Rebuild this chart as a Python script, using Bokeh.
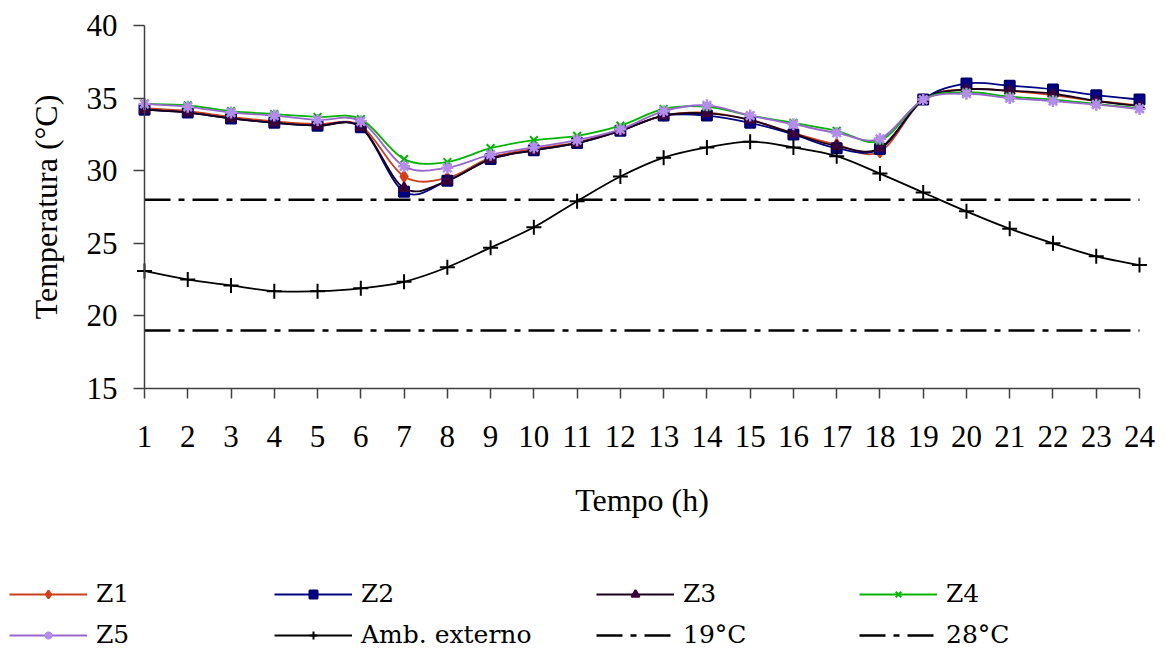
from bokeh.plotting import figure
from bokeh.models import Range1d, FixedTicker, Legend, LegendItem, ColumnDataSource
from bokeh.embed import file_html
from bokeh.resources import INLINE

hours = list(range(1, 25))
z1 = [34.3, 34.1, 33.7, 33.4, 33.2, 33.1, 29.6, 29.5, 30.9, 31.5, 31.95, 32.8,
      33.8, 34.0, 33.5, 32.6, 31.8, 31.3, 34.9, 35.6, 35.5, 35.2, 34.8, 34.5]
z2 = [34.2, 34.0, 33.6, 33.3, 33.1, 33.0, 28.55, 29.3, 30.8, 31.4, 31.9, 32.75,
      33.8, 33.8, 33.3, 32.5, 31.55, 31.5, 34.9, 36.0, 35.85, 35.6, 35.2, 34.9]
z3 = [34.2, 34.0, 33.6, 33.3, 33.1, 33.0, 28.8, 29.3, 30.8, 31.4, 31.9, 32.75,
      33.8, 33.95, 33.5, 32.55, 31.7, 31.55, 34.9, 35.6, 35.5, 35.3, 34.8, 34.45]
z4 = [34.6, 34.5, 34.1, 33.9, 33.7, 33.55, 30.8, 30.6, 31.55, 32.1, 32.4, 33.1,
      34.25, 34.4, 33.8, 33.3, 32.75, 32.05, 34.9, 35.4, 35.1, 34.9, 34.6, 34.3]
z5 = [34.6, 34.4, 34.0, 33.8, 33.5, 33.4, 30.3, 30.2, 31.1, 31.6, 32.1, 32.85,
      34.1, 34.5, 33.8, 33.2, 32.6, 32.2, 34.9, 35.3, 35.0, 34.8, 34.55, 34.25]
amb = [23.1, 22.5, 22.1, 21.7, 21.7, 21.9, 22.35, 23.35, 24.7, 26.1, 27.9, 29.6,
       30.9, 31.6, 32.0, 31.6, 31.0, 29.8, 28.5, 27.2, 26.0, 25.0, 24.1, 23.5]
lim19 = [19.0] * 24
lim28 = [28.0] * 24
y_ticks = [15, 20, 25, 30, 35, 40]
x_min, x_max = 1, 24
y_min, y_max = 15, 40

FONT = "Liberation Serif"
LEGEND_FONT = "DejaVu Serif"

# page layout (pixels): where the axes sit on the 1165 x 650 canvas
W, H = 1165, 650
AX_L, AX_R = 144, 1139     # x = 1 .. 24
AX_T, AX_B = 25, 388       # y = 40 .. 15
ppx = (AX_R - AX_L) / (x_max - x_min)
ppy = (AX_B - AX_T) / (y_max - y_min)
xr = Range1d(x_min - AX_L / ppx, x_max + (W - AX_R) / ppx)
yr = Range1d(y_min - (H - AX_B) / ppy, y_max + AX_T / ppy)


def bezier_source(xs, ys):
    n = len(xs)
    d = dict(x0=[], y0=[], x1=[], y1=[], cx0=[], cy0=[], cx1=[], cy1=[])
    for i in range(n - 1):
        xa, ya = (xs[i - 1], ys[i - 1]) if i > 0 else (xs[i], ys[i])
        xb, yb = xs[i], ys[i]
        xc, yc = xs[i + 1], ys[i + 1]
        xd, yd = (xs[i + 2], ys[i + 2]) if i + 2 < n else (xc, yc)
        d["x0"].append(xb); d["y0"].append(yb)
        d["x1"].append(xc); d["y1"].append(yc)
        d["cx0"].append(xb + (xc - xa) / 6.0); d["cy0"].append(yb + (yc - ya) / 6.0)
        d["cx1"].append(xc - (xd - xb) / 6.0); d["cy1"].append(yc - (yd - yb) / 6.0)
    return ColumnDataSource(d)


p = figure(width=W, height=H, output_backend="svg", toolbar_location=None,
           x_range=xr, y_range=yr,
           min_border_left=0, min_border_right=0, min_border_top=0,
           min_border_bottom=0)
p.outline_line_color = None
p.xgrid.visible = False
p.ygrid.visible = False
p.background_fill_color = "white"
p.border_fill_color = "white"

for ax in (p.xaxis[0], p.yaxis[0]):
    ax.axis_line_color = "#404040"
    ax.axis_line_width = 1.5
    ax.major_tick_line_color = "#404040"
    ax.major_tick_line_width = 1.5
    ax.major_tick_in = 0
    ax.minor_tick_line_color = None
    ax.major_label_text_font = FONT
    ax.major_label_text_font_size = "31px"
    ax.major_label_text_color = "black"
    ax.axis_label_text_font = FONT
    ax.axis_label_text_font_size = "32px"
    ax.axis_label_text_font_style = "normal"
    ax.axis_label_text_color = "black"

p.xaxis.fixed_location = y_min
p.yaxis.fixed_location = x_min
p.xaxis.bounds = (x_min, x_max)
p.yaxis.bounds = (y_min, y_max)
p.xaxis.ticker = FixedTicker(ticks=hours)
p.yaxis.ticker = FixedTicker(ticks=y_ticks)
p.xaxis.major_tick_out = 10
p.yaxis.major_tick_out = 11
p.xaxis.major_label_standoff = 27
p.yaxis.major_label_standoff = 16
p.xaxis.axis_label = "Tempo (h)"
p.yaxis.axis_label = "Temperatura (°C)"
p.xaxis.axis_label_standoff = 32
p.yaxis.axis_label_standoff = 20

# name, values, line colour, marker fill, marker line, marker, size, marker lw
series = [
    ("Z1", z1, "#C8401E", "#D2401A", "#D2401A", "diamond", 11, 2.0),
    ("Z2", z2, "#000080", "#00008B", "#00006A", "square", 10, 2.0),
    ("Z3", z3, "#1A001A", "#3A003A", "#3A003A", "triangle", 10, 2.0),
    ("Z4", z4, "#00B400", "#00B400", "#00B400", "x", 11, 2.0),
    ("Z5", z5, "#9966CC", "#B48CEB", "#B48CEB", "asterisk", 12, 2.5),
    ("Amb. externo", amb, "#000000", "#000000", "#000000", "cross", 15, 2.0),
]

items = {}
for name, ys, lc, fc, mc, marker, size, mlw in series:
    src = bezier_source(hours, ys)
    bz = p.bezier(x0="x0", y0="y0", x1="x1", y1="y1", cx0="cx0", cy0="cy0",
                  cx1="cx1", cy1="cy1", source=src, line_color=lc, line_width=1.8)
    sc = p.scatter(hours, ys, marker=marker, size=size, line_color=mc,
                   fill_color=fc, line_width=mlw)
    items[name] = LegendItem(label=name, renderers=[bz, sc])

l19 = p.line(hours, lim19, line_color="black", line_width=2.5, line_dash="26 8 6 8")
l28 = p.line(hours, lim28, line_color="black", line_width=2.5, line_dash="26 8 6 8")
items["19°C"] = LegendItem(label="19°C", renderers=[l19])
items["28°C"] = LegendItem(label="28°C", renderers=[l28])

columns = [["Z1", "Z5"], ["Z2", "Amb. externo"], ["Z3", "19°C"], ["Z4", "28°C"]]
col_x = [9, 274, 596, 859]
for names, cx in zip(columns, col_x):
    lg = Legend(items=[items[n] for n in names], location=(cx, 1),
                orientation="vertical", padding=0, margin=0, spacing=12,
                glyph_width=78, glyph_height=20, label_height=20,
                label_standoff=9, label_text_font=LEGEND_FONT,
                label_text_font_style="normal",
                label_text_font_size="25px", label_text_color="black",
                border_line_color=None, background_fill_alpha=0,
                click_policy="none")
    p.add_layout(lg, "center")

open("out.html", "w").write(file_html(p, INLINE))
